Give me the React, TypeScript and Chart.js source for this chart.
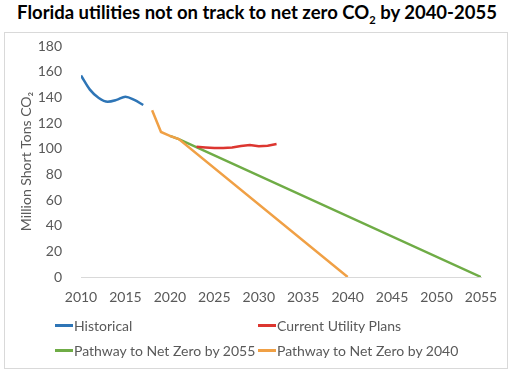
import React, { useEffect, useRef } from 'react';
import { Chart, registerables } from 'chart.js';
Chart.register(...registerables);

const historicalYears = [2010, 2011, 2012, 2013, 2014, 2015, 2016, 2017];
const historicalValues = [157, 146, 139.5, 136.6, 138, 140.5, 138, 134];

const utilityYears = [2023, 2024, 2025, 2026, 2027, 2028, 2029, 2030, 2031, 2032];
const utilityValues = [101.5, 101, 100.5, 100.6, 101, 102, 102.9, 101.8, 102.3, 103.6];

const path2055Years = [2020, 2021, 2055];
const path2055Values = [110, 107.5, 0];

const path2040Years = [2018, 2019, 2020, 2021, 2040];
const path2040Values = [130, 113, 110, 107.5, 0];

const seriesNames = ['Historical', 'Current Utility Plans', 'Pathway to Net Zero by 2055', 'Pathway to Net Zero by 2040'];
const seriesColors = ['#2E75B6', '#DC3630', '#6FAC46', '#F0A045'];

const xMin = 2010;
const xMax = 2055;
const xStep = 5;
const yMin = 0;
const yMax = 180;
const yStep = 20;
const yTitle = 'Million Short Tons CO\u2082';

const toPoints = (xs: number[], ys: number[]) => xs.map((x, i) => ({ x, y: ys[i] }));

const FONT = 'Lato, "Open Sans", sans-serif';
const GRAY = '#595959';

export default function App() {
  const ref = useRef<HTMLCanvasElement | null>(null);

  useEffect(() => {
    document.body.style.margin = '0';
    if (!ref.current) return;
    const chart = new Chart(ref.current, {
      type: 'line',
      data: {
        datasets: [
          { label: seriesNames[0], data: toPoints(historicalYears, historicalValues), borderColor: seriesColors[0], cubicInterpolationMode: 'monotone', order: 3 },
          { label: seriesNames[1], data: toPoints(utilityYears, utilityValues), borderColor: seriesColors[1], order: 1 },
          { label: seriesNames[2], data: toPoints(path2055Years, path2055Values), borderColor: seriesColors[2], order: 2 },
          { label: seriesNames[3], data: toPoints(path2040Years, path2040Values), borderColor: seriesColors[3], order: 0 },
        ].map((d) => ({ ...d, borderWidth: 2.5, pointRadius: 0, fill: false, backgroundColor: d.borderColor })),
      },
      options: {
        animation: false,
        responsive: false,
        maintainAspectRatio: false,
        layout: { padding: { left: 18, top: 46, right: 33, bottom: 67 } },
        plugins: { legend: { display: false }, title: { display: false }, tooltip: { enabled: false } },
        scales: {
          x: {
            type: 'linear',
            min: xMin,
            max: xMax,
            grid: { display: false, drawTicks: false },
            border: { display: true, color: '#d9d9d9', width: 1 },
            ticks: {
              stepSize: xStep,
              padding: 12,
              color: GRAY,
              font: { family: FONT, size: 14 },
              callback: (v: any) => String(v),
              maxRotation: 0,
            },
            afterFit: (s: any) => { s.height = 30; },
          },
          y: {
            min: yMin,
            max: yMax,
            grid: { display: false, drawTicks: false },
            border: { display: false },
            ticks: { stepSize: yStep, padding: 19, color: GRAY, font: { family: FONT, size: 14 } },
            title: { display: true, text: yTitle, color: GRAY, font: { family: FONT, size: 14 }, padding: 0 },
            afterFit: (s: any) => { s.width = 63; },
          },
        },
      },
    });
    return () => chart.destroy();
  }, []);

  const legendPos = [
    { left: 55, top: 325 },
    { left: 258, top: 325 },
    { left: 55, top: 350 },
    { left: 258, top: 350 },
  ];

  return (
    <div style={{ position: 'absolute', left: 0, top: 0, width: 514, height: 374, background: '#fff', fontFamily: FONT }}>
      <div
        style={{
          position: 'absolute', left: 0, top: 0, width: 514, textAlign: 'center',
          fontWeight: 'bold', fontSize: 18.5, color: '#000', lineHeight: '24px', whiteSpace: 'nowrap',
        }}
      >
        Florida utilities not on track to net zero CO<sub style={{ fontSize: '0.6em', lineHeight: 0 }}>2</sub> by 2040-2055
      </div>
      <div style={{ position: 'absolute', left: 4, top: 32, width: 502, height: 335, border: '1px solid #d9d9d9' }} />
      <canvas ref={ref} width={514} height={374} style={{ position: 'absolute', left: 0, top: 0, width: 514, height: 374 }} />
      {seriesNames.map((n, i) => (
        <div key={n} style={{ position: 'absolute', left: legendPos[i].left, top: legendPos[i].top - 10, height: 20, display: 'flex', alignItems: 'center', whiteSpace: 'nowrap' }}>
          <span style={{ display: 'inline-block', width: 18, height: 3, background: seriesColors[i], marginRight: 1 }} />
          <span style={{ fontSize: 14, color: GRAY }}>{n}</span>
        </div>
      ))}
    </div>
  );
}
